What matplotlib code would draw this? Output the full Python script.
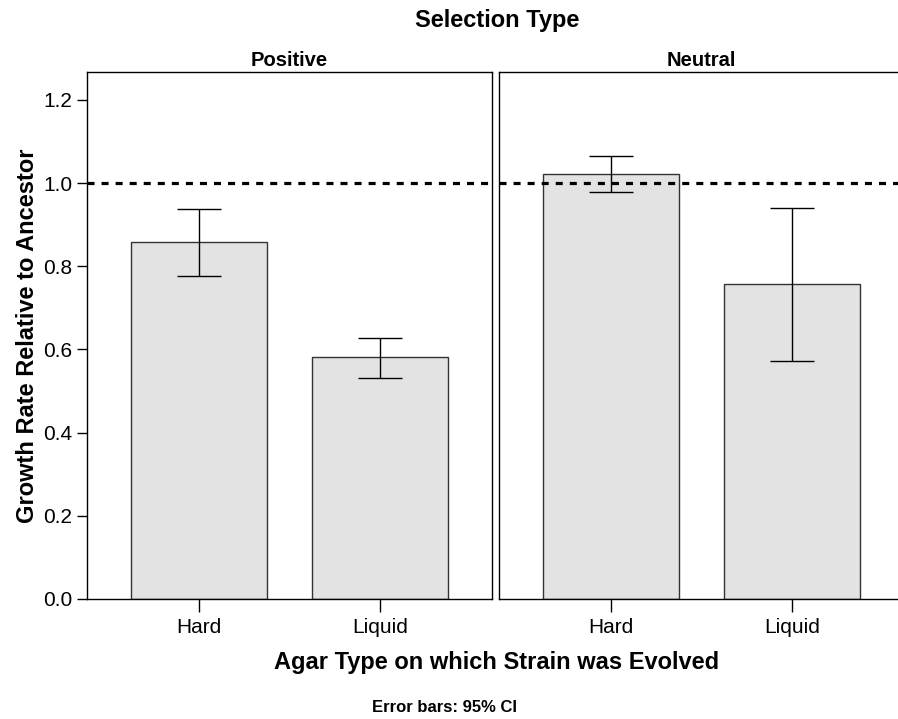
import numpy as np
import matplotlib.pyplot as plt

plt.rcParams['font.family'] = ['Liberation Sans', 'DejaVu Sans']

panels = ['Positive', 'Neutral']
categories = ['Hard', 'Liquid']
means = {'Positive': [0.858, 0.582], 'Neutral': [1.022, 0.757]}
ci_low = {'Positive': [0.776, 0.531], 'Neutral': [0.978, 0.572]}
ci_high = {'Positive': [0.937, 0.627], 'Neutral': [1.065, 0.940]}
yticks = [0.0, 0.2, 0.4, 0.6, 0.8, 1.0, 1.2]

fig = plt.figure(figsize=(8.98, 7.19), dpi=100)
W, H = 898, 719
boxes = [(87, 492), (499, 904)]
top, bottom = 72, 599

for i, (p, (x0, x1)) in enumerate(zip(panels, boxes)):
    ax = fig.add_axes([x0 / W, 1 - bottom / H, (x1 - x0) / W, (bottom - top) / H])
    x = np.arange(len(categories))
    m = np.array(means[p])
    lo = m - np.array(ci_low[p])
    hi = np.array(ci_high[p]) - m
    ax.bar(x, m, width=0.75, color='#e3e3e3', edgecolor='#333333', linewidth=1.0, zorder=2)
    ax.errorbar(x, m, yerr=[lo, hi], fmt='none', ecolor='black', elinewidth=1.0,
                capsize=15.5, capthick=1.0, zorder=3)
    ax.axhline(1.0, color='black', linestyle=(0, (2.2, 2.2)), linewidth=2.3, zorder=4)
    ax.set_xlim(-0.62, 1.62)
    ax.set_ylim(0, 1.267)
    ax.set_xticks(x)
    ax.set_xticklabels(categories, fontsize=15)
    ax.tick_params(axis='x', length=9.5, width=1, direction='out', pad=4)
    for s in ax.spines.values():
        s.set_linewidth(1.0)
    if i == 0:
        ax.set_yticks(yticks)
        ax.set_yticklabels(['%.1f' % t for t in yticks], fontsize=15)
        ax.tick_params(axis='y', length=7.5, width=1, direction='out', pad=3)
        ax.set_ylabel('Growth Rate Relative to Ancestor', fontsize=17, fontweight='bold', labelpad=3)
    else:
        ax.set_yticks([])
    ax.set_title(p, fontsize=14.5, fontweight='bold', pad=4)

fig.text(497 / W, 1 - 21 / H, 'Selection Type', ha='center', va='center', fontsize=17, fontweight='bold')
fig.text(497 / W, 1 - 662 / H, 'Agar Type on which Strain was Evolved', ha='center', va='center',
         fontsize=17, fontweight='bold')
fig.text(445 / W, 1 - 708 / H, 'Error bars: 95% CI', ha='center', va='center', fontsize=12, fontweight='bold')

fig.savefig('out.png', dpi=100)
